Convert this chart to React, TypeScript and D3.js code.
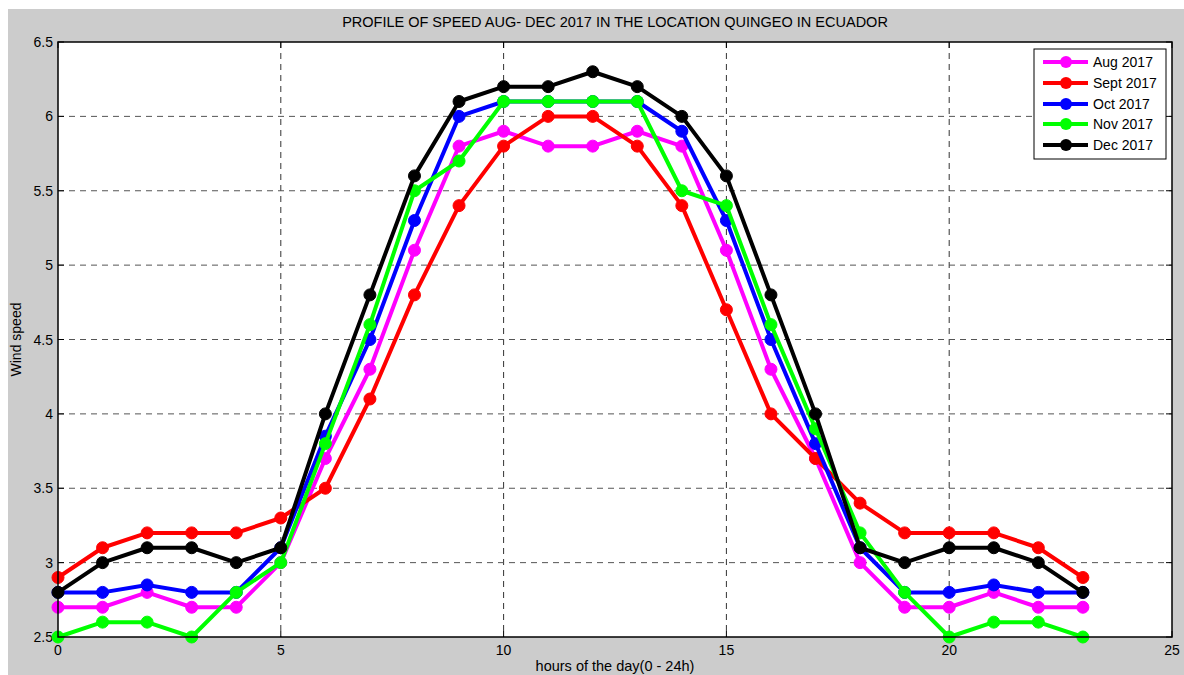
import React from "react";
import * as d3 from "d3";

const hours = d3.range(0, 24);
const seriesNames = ["Aug 2017", "Sept 2017", "Oct 2017", "Nov 2017", "Dec 2017"];
const seriesColors = ["#ff00ff", "#ff0000", "#0000ff", "#00ff00", "#000000"];
const aug = [2.7, 2.7, 2.8, 2.7, 2.7, 3.0, 3.7, 4.3, 5.1, 5.8, 5.9, 5.8, 5.8, 5.9, 5.8, 5.1, 4.3, 3.7, 3.0, 2.7, 2.7, 2.8, 2.7, 2.7];
const sept = [2.9, 3.1, 3.2, 3.2, 3.2, 3.3, 3.5, 4.1, 4.8, 5.4, 5.8, 6.0, 6.0, 5.8, 5.4, 4.7, 4.0, 3.7, 3.4, 3.2, 3.2, 3.2, 3.1, 2.9];
const oct = [2.8, 2.8, 2.85, 2.8, 2.8, 3.1, 3.85, 4.5, 5.3, 6.0, 6.1, 6.1, 6.1, 6.1, 5.9, 5.3, 4.5, 3.8, 3.1, 2.8, 2.8, 2.85, 2.8, 2.8];
const nov = [2.5, 2.6, 2.6, 2.5, 2.8, 3.0, 3.8, 4.6, 5.5, 5.7, 6.1, 6.1, 6.1, 6.1, 5.5, 5.4, 4.6, 3.9, 3.2, 2.8, 2.5, 2.6, 2.6, 2.5];
const dec = [2.8, 3.0, 3.1, 3.1, 3.0, 3.1, 4.0, 4.8, 5.6, 6.1, 6.2, 6.2, 6.3, 6.2, 6.0, 5.6, 4.8, 4.0, 3.1, 3.0, 3.1, 3.1, 3.0, 2.8];
const allSeries = [aug, sept, oct, nov, dec];
const xTicks = [0, 5, 10, 15, 20, 25];
const yTicks = [2.5, 3, 3.5, 4, 4.5, 5, 5.5, 6, 6.5];

const title = "PROFILE OF SPEED AUG- DEC 2017 IN THE LOCATION QUINGEO IN ECUADOR";
const xLabel = "hours of the day(0 - 24h)";
const yLabel = "Wind speed";

export default function App() {
  const L = 58, R = 1172, T = 42, B = 637;
  const x = d3.scaleLinear().domain([0, 25]).range([L, R]);
  const y = d3.scaleLinear().domain([2.5, 6.5]).range([B, T]);
  const line = d3.line<number>().x((_, i) => x(hours[i])).y((d) => y(d));
  const font = "'Liberation Sans', Arial, sans-serif";
  const legY = [62, 83, 104, 124, 145];
  return (
    <svg width={1184} height={675} style={{ position: "absolute", left: 0, top: 0 }} fontFamily={font}>
      <rect x={8} y={9} width={1176} height={666} fill="#cccccc" />
      <rect x={L} y={T} width={R - L} height={B - T} fill="#ffffff" />
      <defs>
        <clipPath id="pc">
          <rect x={L - 10} y={T - 10} width={R - L + 20} height={B - T + 20} />
        </clipPath>
      </defs>
      {xTicks.slice(1, -1).map((t) => (
        <line key={"gx" + t} x1={x(t)} x2={x(t)} y1={T} y2={B} stroke="#333" strokeWidth={1} strokeDasharray="6,5" />
      ))}
      {yTicks.slice(1, -1).map((t) => (
        <line key={"gy" + t} x1={L} x2={R} y1={y(t)} y2={y(t)} stroke="#555" strokeWidth={1} strokeDasharray="6,5" />
      ))}
      {xTicks.map((t) => (
        <g key={"xt" + t}>
          <line x1={x(t)} x2={x(t)} y1={B} y2={B - 6} stroke="#000" />
          <line x1={x(t)} x2={x(t)} y1={T} y2={T + 6} stroke="#000" />
          <text x={x(t)} y={655} textAnchor="middle" fontSize={14} fill="#000">{t}</text>
        </g>
      ))}
      {yTicks.map((t) => (
        <g key={"yt" + t}>
          <line x1={L} x2={L + 6} y1={y(t)} y2={y(t)} stroke="#000" />
          <line x1={R} x2={R - 6} y1={y(t)} y2={y(t)} stroke="#000" />
          <text x={53} y={y(t) + 5} textAnchor="end" fontSize={14} fill="#000">{t}</text>
        </g>
      ))}
      <g clipPath="url(#pc)">
        {allSeries.map((s, k) => (
          <g key={"s" + k}>
            <path d={line(s) || ""} fill="none" stroke={seriesColors[k]} strokeWidth={4} strokeLinejoin="round" />
            {s.map((v, i) => (
              <circle key={i} cx={x(hours[i])} cy={y(v)} r={6} fill={seriesColors[k]} stroke={seriesColors[k]} strokeWidth={1} />
            ))}
          </g>
        ))}
      </g>
      <rect x={L} y={T} width={R - L} height={B - T} fill="none" stroke="#000" strokeWidth={1.5} />
      <text x={(L + R) / 2} y={27} textAnchor="middle" fontSize={14.5} fill="#000">{title}</text>
      <text x={(L + R) / 2} y={671} textAnchor="middle" fontSize={14.5} fill="#000">{xLabel}</text>
      <text transform={`translate(21, ${(T + B) / 2}) rotate(-90)`} textAnchor="middle" fontSize={14} fill="#000">{yLabel}</text>
      <rect x={1034} y={49} width={132} height={110} fill="#ffffff" stroke="#000" strokeWidth={1} />
      {seriesNames.map((n, k) => (
        <g key={"lg" + k}>
          <line x1={1043} x2={1088} y1={legY[k]} y2={legY[k]} stroke={seriesColors[k]} strokeWidth={4} />
          <circle cx={1066} cy={legY[k]} r={6} fill={seriesColors[k]} />
          <text x={1093} y={legY[k] + 5} fontSize={14} fill="#000">{n}</text>
        </g>
      ))}
    </svg>
  );
}
